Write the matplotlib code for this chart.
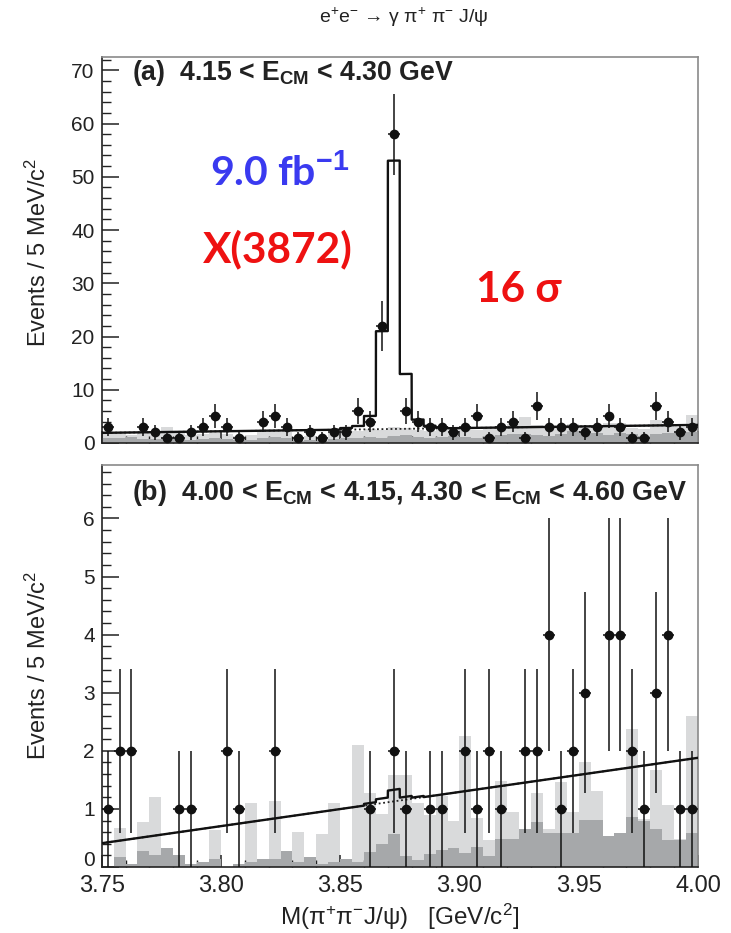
import numpy as np
import matplotlib
matplotlib.use("Agg")
import matplotlib.pyplot as plt
from matplotlib.ticker import MultipleLocator, FormatStrFormatter
from matplotlib.transforms import ScaledTranslation

plt.rcParams['font.family'] = ['Liberation Sans', 'DejaVu Sans']
plt.rcParams['mathtext.fontset'] = 'custom'
plt.rcParams['mathtext.rm'] = 'Liberation Sans'
plt.rcParams['mathtext.it'] = 'Liberation Sans:italic'
plt.rcParams['mathtext.bf'] = 'Liberation Sans:bold'

# binning: 5 MeV bins from 3.75 to 4.00 GeV
x_range = [3.75, 4.00]
n_bins = 50

# ---- panel (a): 4.15 < E_CM < 4.30 GeV ----
counts_a = [3, 0, 0, 3, 2, 1, 1, 2, 3, 5,
            3, 1, 0, 4, 5, 3, 1, 2, 1, 2,
            2, 6, 4, 22, 58, 6, 4, 3, 3, 2,
            3, 5, 1, 3, 4, 1, 7, 3, 3, 3,
            2, 3, 5, 3, 1, 1, 7, 4, 2, 3]
light_a = [1.8, 1.6, 1.5, 1.9, 2.1, 3.0, 2.0, 1.5, 1.6, 1.9,
           1.7, 1.3, 1.5, 2.0, 2.3, 2.1, 1.0, 1.3, 1.2, 1.8,
           2.0, 2.3, 2.6, 2.5, 3.0, 2.8, 2.4, 2.2, 2.9, 3.0,
           2.6, 2.5, 2.7, 3.2, 3.6, 4.8, 3.4, 2.8, 3.0, 3.5,
           3.2, 3.0, 3.8, 3.8, 2.9, 2.6, 4.4, 3.5, 3.0, 5.3]
dark_a = [1.0, 0.9, 1.1, 0.8, 0.7, 1.2, 0.9, 0.6, 0.8, 1.0,
          0.7, 0.5, 0.6, 0.9, 1.2, 1.0, 0.4, 0.5, 0.4, 0.8,
          0.9, 1.0, 1.1, 0.9, 1.3, 1.5, 1.2, 1.0, 1.1, 1.4,
          1.2, 1.0, 1.3, 1.5, 1.6, 1.7, 1.5, 1.4, 1.6, 2.2,
          2.0, 1.8, 1.5, 1.9, 1.6, 1.4, 1.7, 1.8, 1.9, 2.0]
bkg_a = [1.9, 3.4]            # linear background at 3.75 and 4.00
sig_bins_a = [20, 21, 22, 23, 24, 25, 26, 27, 28]
sig_vals_a = [0.3, 0.65, 2.5, 18.4, 50.4, 10.3, 1.7, 0.5, 0.15]

# ---- panel (b): 4.00 < E_CM < 4.15, 4.30 < E_CM < 4.60 GeV ----
counts_b = [1, 2, 2, 0, 0, 0, 1, 1, 0, 0,
            2, 1, 0, 0, 2, 0, 0, 0, 0, 0,
            0, 0, 1, 0, 2, 1, 0, 1, 1, 0,
            2, 1, 2, 1, 0, 2, 2, 4, 1, 2,
            3, 0, 4, 4, 2, 1, 3, 4, 1, 1]
light_b = [0, 0.68, 0.06, 0.78, 1.2, 0.32, 0.2, 0.06, 0.09, 0.64,
           0, 0.06, 1.1, 0.13, 1.14, 0.27, 0.6, 0.18, 0.57, 1.1,
           0.13, 2.1, 1.27, 0.92, 1.58, 1.58, 1.1, 0.9, 1.22, 0.8,
           2.25, 0.84, 0.46, 1.48, 0.95, 0.66, 1.27, 0.65, 1.47, 0.94,
           1.81, 1.31, 0.53, 0.59, 2.37, 0.82, 1.67, 1.07, 0.48, 2.6]
dark_b = [0, 0.18, 0.06, 0.27, 0.2, 0.32, 0.2, 0.06, 0.09, 0.13,
          0, 0.06, 0.09, 0.13, 0.13, 0.27, 0.09, 0.18, 0.06, 0.09,
          0.13, 0.09, 0.26, 0.4, 0.57, 0.19, 0.12, 0.23, 0.29, 0.32,
          0.25, 0.35, 0.19, 0.49, 0.49, 0.66, 0.78, 0.59, 0.58, 0.58,
          0.81, 0.81, 0.53, 0.59, 0.86, 0.8, 0.66, 0.46, 0.46, 0.59]
bkg_b = [0.41, 1.88]
sig_bins_b = [22, 23, 24, 25, 26]
sig_vals_b = [0.03, 0.08, 0.2, 0.05, 0.02]

LIGHT = '#d9dadb'
DARK = '#a6a8aa'

edges = np.linspace(x_range[0], x_range[1], n_bins + 1)
bw = edges[1] - edges[0]
centers = 0.5 * (edges[:-1] + edges[1:])


def draw_panel(ax, counts, light, dark, bkg, sig_bins, sig_vals):
    counts = np.array(counts, dtype=float)
    ax.bar(edges[:-1], light, width=bw, align='edge', color=LIGHT, lw=0, zorder=1)
    ax.bar(edges[:-1], dark, width=bw, align='edge', color=DARK, lw=0, zorder=2)

    xf = np.linspace(x_range[0], x_range[1], 5001)
    bk = np.interp(xf, x_range, bkg)
    sig = np.zeros(n_bins)
    sig[sig_bins] = sig_vals
    idx = np.clip(((xf - x_range[0]) / bw + 1e-9).astype(int), 0, n_bins - 1)
    ax.plot(xf, bk, ls=(0, (1, 1.5)), color='#222222', lw=1.3, zorder=3)
    ax.plot(xf, bk + sig[idx], color='#111111', lw=1.7, zorder=4)

    m = counts > 0
    ax.errorbar(centers[m], counts[m], yerr=np.sqrt(counts[m]), xerr=bw / 2,
                fmt='o', color='#111111', ms=6, elinewidth=1.1, capsize=0, zorder=5)

    ax.set_xlim(*x_range)
    ax.xaxis.set_major_locator(MultipleLocator(0.05))
    ax.xaxis.set_minor_locator(MultipleLocator(0.01))
    ax.tick_params(which='both', direction='in', top=False, right=False, colors='#222222')
    ax.tick_params(axis='y', which='major', length=12, width=1.1, labelsize=15, pad=5)
    ax.tick_params(axis='y', which='minor', length=6.5, width=1.0)
    ax.tick_params(axis='x', which='major', length=9, width=1.1, labelsize=17, pad=6)
    ax.tick_params(axis='x', which='minor', length=5, width=1.0)
    for s in ['left', 'bottom']:
        ax.spines[s].set_color('#222222')
        ax.spines[s].set_linewidth(1.2)
    for s in ['top', 'right']:
        ax.spines[s].set_color('#8a8a8a')
        ax.spines[s].set_linewidth(1.2)


fig = plt.figure(figsize=(7.31, 9.33), dpi=100)
ax1 = fig.add_axes([0.1391, 0.5252, 0.8157, 0.4137])
ax2 = fig.add_axes([0.1391, 0.0707, 0.8157, 0.4309])

draw_panel(ax1, counts_a, light_a, dark_a, bkg_a, sig_bins_a, sig_vals_a)
ax1.set_ylim(0, 72.5)
ax1.yaxis.set_major_locator(MultipleLocator(10))
ax1.yaxis.set_minor_locator(MultipleLocator(2))
ax1.tick_params(axis='x', labelbottom=False)

draw_panel(ax2, counts_b, light_b, dark_b, bkg_b, sig_bins_b, sig_vals_b)
ax2.set_ylim(0, 6.92)
ax2.yaxis.set_major_locator(MultipleLocator(1))
ax2.yaxis.set_minor_locator(MultipleLocator(0.2))
ax2.xaxis.set_major_formatter(FormatStrFormatter('%.2f'))

# the "0" of the lower panel sits a bit above the axis, clear of "3.75"
fig.canvas.draw()
for lbl in ax2.yaxis.get_majorticklabels():
    if lbl.get_text() == '0':
        lbl.set_transform(lbl.get_transform() + ScaledTranslation(0, 6 / 72, fig.dpi_scale_trans))

# panel labels
ax1.text(0.051, 0.94, r'(a)  4.15 < E$_{\mathbf{CM}}$ < 4.30 GeV', transform=ax1.transAxes,
         fontsize=19.2, fontweight='bold', color='#222222', va='baseline')
ax2.text(0.051, 0.913, r'(b)  4.00 < E$_{\mathbf{CM}}$ < 4.15, 4.30 < E$_{\mathbf{CM}}$ < 4.60 GeV',
         transform=ax2.transAxes, fontsize=19.4, fontweight='bold', color='#222222', va='baseline')

# annotations
ann_font = ['Lato', 'DejaVu Sans']
ax1.text(0.182, 0.668, r'9.0 fb$^{\mathbf{-1}}$', transform=ax1.transAxes, fontsize=29.5,
         fontweight='bold', color='#3a3af0', family=ann_font, va='baseline')
ax1.text(0.170, 0.469, 'X(3872)', transform=ax1.transAxes, fontsize=30.5,
         fontweight='bold', color='#ee1111', family=ann_font, va='baseline')
ax1.text(0.627, 0.365, '16 σ', transform=ax1.transAxes, fontsize=30.5,
         fontweight='bold', color='#ee1111', family=ann_font, va='baseline')

# titles and axis labels
fig.text(404 / 731, 1 - 17 / 933, r'e$^{+}$e$^{-}$ → γ π$^{+}$ π$^{-}$ J/ψ',
         ha='center', va='center', fontsize=14, color='#222222')
fig.text(38 / 731, 1 - 252 / 933, r'Events / 5 MeV/c$^{2}$', rotation=90,
         ha='center', va='center', fontsize=17, color='#222222')
fig.text(38 / 731, 1 - 665 / 933, r'Events / 5 MeV/c$^{2}$', rotation=90,
         ha='center', va='center', fontsize=17, color='#222222')
fig.text(400 / 731, 1 - 917 / 933, r'M(π$^{+}$π$^{-}$J/ψ)   [GeV/c$^{2}$]',
         ha='center', va='center', fontsize=17.5, color='#222222')

fig.savefig('out.png', dpi=100)
